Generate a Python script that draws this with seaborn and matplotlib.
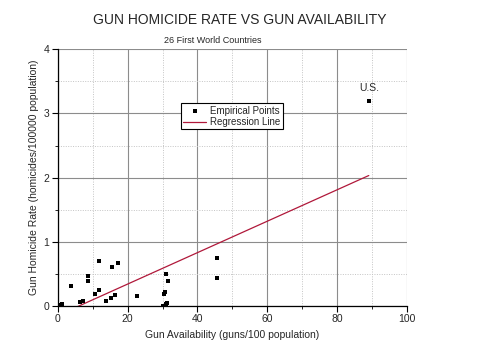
import numpy as np
import pandas as pd
import matplotlib
matplotlib.use("Agg")
import matplotlib.pyplot as plt
from matplotlib.ticker import MultipleLocator
import seaborn as sns

# guns per 100 people / gun homicides per 100000 people
guns = [0.6, 1.2, 3.9, 6.3, 7.3, 8.5, 8.5, 10.6, 11.9, 11.9, 13.7, 15.1, 15.5,
        16.3, 17.3, 22.6, 30.2, 30.5, 30.7, 30.9, 31.7, 31.1, 31.4, 45.7, 45.5, 89.1]
homicide = [0.02, 0.03, 0.32, 0.06, 0.08, 0.47, 0.39, 0.19, 0.70, 0.25, 0.08, 0.13, 0.61,
            0.18, 0.67, 0.15, 0.00, 0.19, 0.22, 0.50, 0.39, 0.04, 0.05, 0.75, 0.44, 3.19]
us_label = "U.S."

df = pd.DataFrame({"guns": guns, "homicide": homicide})

sns.set_style("white")
plt.rcParams["font.family"] = ["Liberation Sans", "DejaVu Sans"]

fig = plt.figure(figsize=(4.82, 3.64), dpi=100)
ax = fig.add_axes([0.120, 0.159, 0.724, 0.706])

# regression line (OLS on the points)
sns.regplot(data=df, x="guns", y="homicide", ax=ax, scatter=False, ci=None,
            color="#b0183a", line_kws={"lw": 0.9}, label="Regression Line")
sns.scatterplot(data=df, x="guns", y="homicide", ax=ax, marker="s", s=12,
                color="black", edgecolor="black", linewidth=0, label="Empirical Points",
                zorder=4)

ax.set_xlim(0, 100)
ax.set_ylim(0, 4)
ax.xaxis.set_major_locator(MultipleLocator(20))
ax.xaxis.set_minor_locator(MultipleLocator(10))
ax.yaxis.set_major_locator(MultipleLocator(1))
ax.yaxis.set_minor_locator(MultipleLocator(0.5))

ax.grid(which="major", color="#8c8c8c", lw=0.8, ls="-")
ax.grid(which="minor", color="#c4c4c4", lw=0.7, ls=(0, (1, 1.5)))
ax.set_axisbelow(True)
fig.canvas.draw()
ax.xaxis.get_major_ticks()[-1].gridline.set_visible(False)
ax.yaxis.get_major_ticks()[-1].gridline.set_visible(False)

for s in ["top", "right"]:
    ax.spines[s].set_visible(False)
for s in ["left", "bottom"]:
    ax.spines[s].set_color("black")
    ax.spines[s].set_linewidth(0.9)

ax.tick_params(which="major", direction="out", length=4, width=0.8, color="black",
               labelsize=7.5, pad=2, bottom=True, left=True)
ax.tick_params(which="minor", direction="out", length=2, width=0.6, color="black",
               bottom=True, left=True)

ax.set_xlabel("Gun Availability (guns/100 population)", fontsize=7.5, labelpad=4)
ax.set_ylabel("Gun Homicide Rate (homicides/100000 population)", fontsize=7.5, labelpad=3)

us_i = int(np.argmax(guns))
ax.annotate(us_label, (guns[us_i], homicide[us_i]), xytext=(0, 6),
            textcoords="offset points", ha="center", va="bottom", fontsize=7.5)

fig.text(0.498, 0.945, "GUN HOMICIDE RATE VS GUN AVAILABILITY", ha="center", va="center",
         fontsize=10)
fig.text(0.442, 0.888, "26 First World Countries", ha="center", va="center", fontsize=6.5)

handles, labels = ax.get_legend_handles_labels()
order = [labels.index("Empirical Points"), labels.index("Regression Line")]
leg = ax.legend([handles[i] for i in order], [labels[i] for i in order],
                loc="upper left", bbox_to_anchor=(0.352, 0.79), fontsize=7,
                frameon=True, fancybox=False, framealpha=1, edgecolor="black",
                borderpad=0.25, labelspacing=0.15, handlelength=2.4, handletextpad=0.4,
                borderaxespad=0, markerscale=0.8)
leg.get_frame().set_linewidth(0.8)

fig.savefig("out.png", dpi=100)
